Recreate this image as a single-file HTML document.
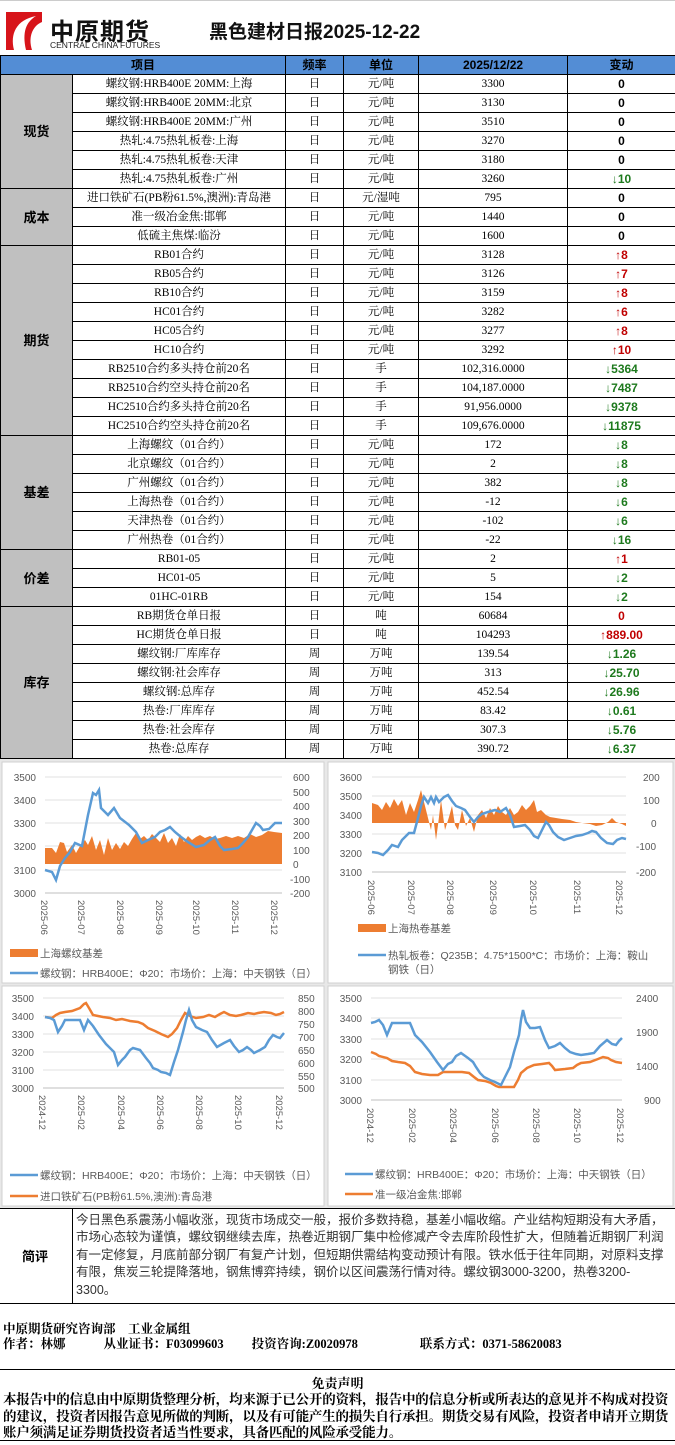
<!DOCTYPE html>
<html><head><meta charset="utf-8">
<style>
*{margin:0;padding:0;box-sizing:border-box}
body{width:675px;height:1445px;background:#fff;position:relative;overflow:hidden;font-family:"Liberation Serif","Noto Serif CJK SC",serif;color:#000}
.abs{position:absolute}
table{position:absolute;left:0;top:55px;border-collapse:collapse;table-layout:fixed;width:675px}
td,th{border:1px solid #000;height:19px;font-size:11.5px;text-align:center;white-space:nowrap;overflow:hidden;line-height:17px;padding:0}
th{background:#538dd5;font-family:"Liberation Sans","Noto Sans CJK SC",sans-serif;font-weight:bold;font-size:12px}
td.c{background:#c0c0c0;font-family:"Liberation Sans","Noto Sans CJK SC",sans-serif;font-weight:bold;font-size:13px}
td.v{font-family:"Liberation Sans","Noto Sans CJK SC",sans-serif;font-weight:bold;font-size:12px}
.r{color:#c00000}.g{color:#1e7a1e}
.sans{font-family:"Liberation Sans","Noto Sans CJK SC",sans-serif}
</style></head><body>
<div class="abs" style="left:0;top:0;width:675px;height:55px;background:#fff;border-top:1px solid #ccc"></div>
<svg class="abs" style="left:6px;top:12px" width="36" height="38"><rect width="36" height="38" fill="#d7141a"/><path d="M8 38 C4 22 10 8 30 4 C20 10 16 20 20 38 Z" fill="#fff"/><path d="M26 38 C22 26 26 14 36 10 L36 38Z" fill="#fff"/></svg>
<div class="abs sans" style="left:50px;top:12px;font-size:24px;font-weight:bold;letter-spacing:1px;color:#111">中原期货</div>
<div class="abs sans" style="left:50px;top:40px;font-size:8.5px;color:#222;letter-spacing:0px">CENTRAL CHINA FUTURES</div>
<div class="abs sans" style="left:209px;top:17px;font-size:19px;font-weight:bold;color:#111">黑色建材日报2025-12-22</div>
<table>
<colgroup><col style="width:72px"><col style="width:213px"><col style="width:58px"><col style="width:75px"><col style="width:149px"><col style="width:108px"></colgroup>
<tr><th colspan="2">项目</th><th>频率</th><th>单位</th><th>2025/12/22</th><th>变动</th></tr>
<tr><td class="c" rowspan="6">现货</td><td>螺纹钢:HRB400E 20MM:上海</td><td>日</td><td>元/吨</td><td>3300</td><td class="v">0</td></tr>
<tr><td>螺纹钢:HRB400E 20MM:北京</td><td>日</td><td>元/吨</td><td>3130</td><td class="v">0</td></tr>
<tr><td>螺纹钢:HRB400E 20MM:广州</td><td>日</td><td>元/吨</td><td>3510</td><td class="v">0</td></tr>
<tr><td>热轧:4.75热轧板卷:上海</td><td>日</td><td>元/吨</td><td>3270</td><td class="v">0</td></tr>
<tr><td>热轧:4.75热轧板卷:天津</td><td>日</td><td>元/吨</td><td>3180</td><td class="v">0</td></tr>
<tr><td>热轧:4.75热轧板卷:广州</td><td>日</td><td>元/吨</td><td>3260</td><td class="v g">↓10</td></tr>
<tr><td class="c" rowspan="3">成本</td><td>进口铁矿石(PB粉61.5%,澳洲):青岛港</td><td>日</td><td>元/湿吨</td><td>795</td><td class="v">0</td></tr>
<tr><td>准一级冶金焦:邯郸</td><td>日</td><td>元/吨</td><td>1440</td><td class="v">0</td></tr>
<tr><td>低硫主焦煤:临汾</td><td>日</td><td>元/吨</td><td>1600</td><td class="v">0</td></tr>
<tr><td class="c" rowspan="10">期货</td><td>RB01合约</td><td>日</td><td>元/吨</td><td>3128</td><td class="v r">↑8</td></tr>
<tr><td>RB05合约</td><td>日</td><td>元/吨</td><td>3126</td><td class="v r">↑7</td></tr>
<tr><td>RB10合约</td><td>日</td><td>元/吨</td><td>3159</td><td class="v r">↑8</td></tr>
<tr><td>HC01合约</td><td>日</td><td>元/吨</td><td>3282</td><td class="v r">↑6</td></tr>
<tr><td>HC05合约</td><td>日</td><td>元/吨</td><td>3277</td><td class="v r">↑8</td></tr>
<tr><td>HC10合约</td><td>日</td><td>元/吨</td><td>3292</td><td class="v r">↑10</td></tr>
<tr><td>RB2510合约多头持仓前20名</td><td>日</td><td>手</td><td>102,316.0000</td><td class="v g">↓5364</td></tr>
<tr><td>RB2510合约空头持仓前20名</td><td>日</td><td>手</td><td>104,187.0000</td><td class="v g">↓7487</td></tr>
<tr><td>HC2510合约多头持仓前20名</td><td>日</td><td>手</td><td>91,956.0000</td><td class="v g">↓9378</td></tr>
<tr><td>HC2510合约空头持仓前20名</td><td>日</td><td>手</td><td>109,676.0000</td><td class="v g">↓11875</td></tr>
<tr><td class="c" rowspan="6">基差</td><td>上海螺纹（01合约）</td><td>日</td><td>元/吨</td><td>172</td><td class="v g">↓8</td></tr>
<tr><td>北京螺纹（01合约）</td><td>日</td><td>元/吨</td><td>2</td><td class="v g">↓8</td></tr>
<tr><td>广州螺纹（01合约）</td><td>日</td><td>元/吨</td><td>382</td><td class="v g">↓8</td></tr>
<tr><td>上海热卷（01合约）</td><td>日</td><td>元/吨</td><td>-12</td><td class="v g">↓6</td></tr>
<tr><td>天津热卷（01合约）</td><td>日</td><td>元/吨</td><td>-102</td><td class="v g">↓6</td></tr>
<tr><td>广州热卷（01合约）</td><td>日</td><td>元/吨</td><td>-22</td><td class="v g">↓16</td></tr>
<tr><td class="c" rowspan="3">价差</td><td>RB01-05</td><td>日</td><td>元/吨</td><td>2</td><td class="v r">↑1</td></tr>
<tr><td>HC01-05</td><td>日</td><td>元/吨</td><td>5</td><td class="v g">↓2</td></tr>
<tr><td>01HC-01RB</td><td>日</td><td>元/吨</td><td>154</td><td class="v g">↓2</td></tr>
<tr><td class="c" rowspan="8">库存</td><td>RB期货仓单日报</td><td>日</td><td>吨</td><td>60684</td><td class="v r">0</td></tr>
<tr><td>HC期货仓单日报</td><td>日</td><td>吨</td><td>104293</td><td class="v r">↑889.00</td></tr>
<tr><td>螺纹钢:厂库库存</td><td>周</td><td>万吨</td><td>139.54</td><td class="v g">↓1.26</td></tr>
<tr><td>螺纹钢:社会库存</td><td>周</td><td>万吨</td><td>313</td><td class="v g">↓25.70</td></tr>
<tr><td>螺纹钢:总库存</td><td>周</td><td>万吨</td><td>452.54</td><td class="v g">↓26.96</td></tr>
<tr><td>热卷:厂库库存</td><td>周</td><td>万吨</td><td>83.42</td><td class="v g">↓0.61</td></tr>
<tr><td>热卷:社会库存</td><td>周</td><td>万吨</td><td>307.3</td><td class="v g">↓5.76</td></tr>
<tr><td>热卷:总库存</td><td>周</td><td>万吨</td><td>390.72</td><td class="v g">↓6.37</td></tr>
</table>

<svg class="abs" style="left:0;top:0" width="675" height="1445" font-family="Liberation Sans, Noto Sans CJK SC, sans-serif" font-size="10" fill="#595959">
<rect x="0" y="759" width="675" height="449" fill="#e8e8e8"/>
<rect x="2" y="762" width="322" height="221" fill="#fff" stroke="#d0d0d0"/>
<rect x="328" y="762" width="345" height="221" fill="#fff" stroke="#d0d0d0"/>
<rect x="2" y="986" width="322" height="220" fill="#fff" stroke="#d0d0d0"/>
<rect x="328" y="986" width="345" height="220" fill="#fff" stroke="#d0d0d0"/>
<g stroke="#e0e0e0" stroke-width="1">
<line x1="45" x2="282" y1="777" y2="777"/><line x1="45" x2="282" y1="800" y2="800"/><line x1="45" x2="282" y1="823" y2="823"/><line x1="45" x2="282" y1="846" y2="846"/><line x1="45" x2="282" y1="870" y2="870"/>
<line x1="372" x2="626" y1="777" y2="777"/><line x1="372" x2="626" y1="796" y2="796"/><line x1="372" x2="626" y1="815" y2="815"/><line x1="372" x2="626" y1="834" y2="834"/><line x1="372" x2="626" y1="853" y2="853"/>
<line x1="43" x2="284" y1="998" y2="998"/><line x1="43" x2="284" y1="1016" y2="1016"/><line x1="43" x2="284" y1="1034" y2="1034"/><line x1="43" x2="284" y1="1052" y2="1052"/><line x1="43" x2="284" y1="1070" y2="1070"/>
<line x1="371" x2="622" y1="998" y2="998"/><line x1="371" x2="622" y1="1018" y2="1018"/><line x1="371" x2="622" y1="1039" y2="1039"/><line x1="371" x2="622" y1="1059" y2="1059"/><line x1="371" x2="622" y1="1080" y2="1080"/>
</g>
<g stroke="#bfbfbf"><line x1="45" x2="282" y1="893" y2="893"/><line x1="372" x2="626" y1="872" y2="872"/><line x1="43" x2="284" y1="1088" y2="1088"/><line x1="371" x2="622" y1="1100" y2="1100"/></g>
<!-- chart1 -->
<g text-anchor="end"><text x="36" y="781">3500</text><text x="36" y="804">3400</text><text x="36" y="827">3300</text><text x="36" y="850">3200</text><text x="36" y="874">3100</text><text x="36" y="897">3000</text></g>
<g text-anchor="start"><text x="293" y="781">600</text><text x="293" y="796">500</text><text x="293" y="810">400</text><text x="293" y="825">300</text><text x="293" y="839">200</text><text x="293" y="854">100</text><text x="293" y="868">0</text><text x="290" y="883">-100</text><text x="290" y="897">-200</text></g>
<path fill="#ed7d31" d="M45 864 L45 848 L52 848 L56 853 L60 842 L64 843 L67 852 L72 845 L76 853 L80 846 L85 840 L88 845 L92 836 L96 850 L100 840 L104 855 L108 838 L112 850 L116 843 L120 849 L124 842 L128 846 L132 839 L136 833 L140 839 L144 836 L148 840 L152 834 L156 838 L160 842 L164 833 L168 843 L172 838 L176 846 L180 834 L184 842 L188 836 L192 840 L196 837 L200 835 L205 838 L210 836 L215 839 L220 838 L226 836 L232 838 L238 836 L244 838 L250 834 L256 837 L262 835 L268 831 L274 832 L282 833 L282 864Z"/>
<polyline fill="none" stroke="#5b9bd5" stroke-width="2.5" points="45,870 52,872 56,880 60,866 65,858 70,852 75,843 82,846 88,815 93,793 96,795 99,790 101,808 108,815 114,808 120,818 129,825 136,832 142,843 148,840 155,837 160,832 165,830 170,827 175,832 181,837 188,842 196,847 204,845 210,840 215,837 220,846 224,850 232,849 238,848 243,843 248,837 252,830 256,823 260,826 263,830 269,829 275,823 282,823"/>
<g font-size="9.5">
<text transform="translate(41,900) rotate(90)">2025-06</text><text transform="translate(78,900) rotate(90)">2025-07</text><text transform="translate(117,900) rotate(90)">2025-08</text><text transform="translate(156,900) rotate(90)">2025-09</text><text transform="translate(193,900) rotate(90)">2025-10</text><text transform="translate(232,900) rotate(90)">2025-11</text><text transform="translate(271,900) rotate(90)">2025-12</text>
</g>
<rect x="10" y="949" width="28" height="8" fill="#ed7d31"/><text x="40" y="957" font-size="10.5">上海螺纹基差</text>
<line x1="10" x2="38" y1="973" y2="973" stroke="#5b9bd5" stroke-width="2.5"/><text x="40" y="977" font-size="10.5">螺纹钢：HRB400E：Φ20：市场价：上海：中天钢铁（日）</text>
<!-- chart2 -->
<g text-anchor="end"><text x="362" y="781">3600</text><text x="362" y="800">3500</text><text x="362" y="819">3400</text><text x="362" y="838">3300</text><text x="362" y="857">3200</text><text x="362" y="876">3100</text></g>
<g><text x="643" y="781">200</text><text x="643" y="804">100</text><text x="651" y="827">0</text><text x="636" y="850">-100</text><text x="636" y="876">-200</text></g>
<path fill="#ed7d31" d="M372 823 L372 803 L378 805 L382 810 L386 802 L390 808 L394 799 L398 806 L402 800 L406 815 L410 803 L414 812 L418 800 L421 790 L424 802 L428 818 L431 830 L433 815 L436 840 L438 825 L441 800 L445 830 L449 817 L452 806 L455 825 L458 830 L462 810 L466 826 L470 818 L474 832 L478 815 L482 810 L486 818 L490 808 L494 815 L498 806 L502 812 L506 815 L510 808 L514 815 L518 812 L522 805 L526 810 L530 806 L534 800 L537 812 L541 810 L546 815 L550 817 L556 818 L562 819 L570 820 L576 822 L582 823 L590 824 L596 826 L602 825 L608 822 L612 818 L616 822 L622 824 L626 826 L626 823Z"/>
<polyline fill="none" stroke="#5b9bd5" stroke-width="2.5" points="372,852 378,853 383,855 388,850 392,845 398,847 402,840 409,833 414,833 418,818 421,806 424,797 428,803 431,797 434,803 436,797 439,802 444,797 448,795 452,801 456,806 461,808 465,810 470,817 474,822 478,817 482,814 488,812 495,810 500,812 506,808 510,815 514,827 520,826 525,825 530,830 534,836 538,838 542,830 546,822 549,825 553,832 558,837 564,840 570,838 576,836 582,835 588,833 592,831 596,832 601,838 607,843 613,844 617,840 622,838 626,839"/>
<g font-size="9.5">
<text transform="translate(368,880) rotate(90)">2025-06</text><text transform="translate(408,880) rotate(90)">2025-07</text><text transform="translate(447,880) rotate(90)">2025-08</text><text transform="translate(490,880) rotate(90)">2025-09</text><text transform="translate(530,880) rotate(90)">2025-10</text><text transform="translate(574,880) rotate(90)">2025-11</text><text transform="translate(616,880) rotate(90)">2025-12</text>
</g>
<rect x="358" y="924" width="28" height="8" fill="#ed7d31"/><text x="388" y="932" font-size="10.5">上海热卷基差</text>
<line x1="358" x2="386" y1="955" y2="955" stroke="#5b9bd5" stroke-width="2.5"/><text x="388" y="959" font-size="10.5">热轧板卷：Q235B：4.75*1500*C：市场价：上海：鞍山</text><text x="388" y="973" font-size="10.5">钢铁（日）</text>
<!-- chart3 -->
<g text-anchor="end"><text x="34" y="1002">3500</text><text x="34" y="1020">3400</text><text x="34" y="1038">3300</text><text x="34" y="1056">3200</text><text x="34" y="1074">3100</text><text x="34" y="1092">3000</text></g>
<g><text x="298" y="1002">850</text><text x="298" y="1015">800</text><text x="298" y="1028">750</text><text x="298" y="1041">700</text><text x="298" y="1054">650</text><text x="298" y="1067">600</text><text x="298" y="1080">550</text><text x="298" y="1092">500</text></g>
<polyline fill="none" stroke="#ed7d31" stroke-width="2.5" points="45,1017 52,1018 56,1015 60,1013 65,1012 72,1011 80,1008 84,1004 86,1003 89,1008 93,1015 98,1016 103,1017 110,1018 116,1020 122,1019 130,1021 138,1022 143,1024 148,1028 155,1031 161,1034 168,1037 172,1034 177,1028 181,1020 185,1013 190,1016 196,1018 203,1017 209,1015 215,1017 220,1014 224,1012 230,1015 236,1016 241,1015 248,1013 254,1014 258,1013 264,1012 271,1013 276,1015 280,1014 284,1012"/>
<polyline fill="none" stroke="#5b9bd5" stroke-width="2.5" points="45,1017 50,1018 54,1020 58,1032 62,1026 65,1020 72,1020 80,1020 84,1030 88,1020 93,1026 99,1035 106,1044 114,1052 118,1065 122,1060 125,1057 130,1050 133,1048 140,1050 146,1058 150,1063 153,1068 158,1070 161,1072 166,1073 170,1075 174,1062 178,1050 183,1032 186,1020 189,1010 192,1020 196,1027 202,1030 207,1032 212,1040 217,1047 224,1043 230,1040 234,1046 239,1052 243,1050 247,1047 251,1050 254,1053 260,1050 265,1047 269,1040 273,1035 277,1037 280,1038 284,1033"/>
<g font-size="9.5">
<text transform="translate(39,1095) rotate(90)">2024-12</text><text transform="translate(78,1095) rotate(90)">2025-02</text><text transform="translate(118,1095) rotate(90)">2025-04</text><text transform="translate(157,1095) rotate(90)">2025-06</text><text transform="translate(196,1095) rotate(90)">2025-08</text><text transform="translate(235,1095) rotate(90)">2025-10</text><text transform="translate(276,1095) rotate(90)">2025-12</text>
</g>
<line x1="10" x2="38" y1="1175" y2="1175" stroke="#5b9bd5" stroke-width="2.5"/><text x="40" y="1179" font-size="10.5">螺纹钢：HRB400E：Φ20：市场价：上海：中天钢铁（日）</text>
<line x1="10" x2="38" y1="1196" y2="1196" stroke="#ed7d31" stroke-width="2.5"/><text x="40" y="1200" font-size="10.5">进口铁矿石(PB粉61.5%,澳洲):青岛港</text>
<!-- chart4 -->
<g text-anchor="end"><text x="362" y="1002">3500</text><text x="362" y="1022">3400</text><text x="362" y="1043">3300</text><text x="362" y="1063">3200</text><text x="362" y="1084">3100</text><text x="362" y="1104">3000</text></g>
<g><text x="636" y="1002">2400</text><text x="636" y="1036">1900</text><text x="636" y="1070">1400</text><text x="644" y="1104">900</text></g>
<polyline fill="none" stroke="#ed7d31" stroke-width="2.5" points="371,1052 376,1054 379,1056 387,1058 392,1061 398,1062 405,1063 410,1066 415,1072 422,1074 430,1075 438,1075 443,1072 448,1072 456,1072 462,1072 469,1073 474,1077 478,1080 485,1081 491,1083 496,1086 499,1087 506,1087 514,1087 518,1080 521,1073 527,1068 534,1065 542,1064 549,1063 552,1066 555,1070 565,1069 573,1068 577,1065 581,1063 590,1062 598,1059 603,1057 608,1058 611,1060 616,1062 622,1063"/>
<polyline fill="none" stroke="#5b9bd5" stroke-width="2.5" points="371,1023 375,1022 379,1020 383,1025 387,1035 392,1023 398,1023 404,1023 410,1023 415,1035 422,1042 430,1052 437,1062 443,1070 448,1064 452,1062 456,1056 461,1053 468,1058 473,1062 476,1067 480,1073 484,1077 490,1080 495,1082 499,1084 501,1085 506,1075 510,1067 514,1052 519,1035 521,1020 523,1010 526,1022 530,1028 535,1028 540,1027 545,1040 549,1048 555,1046 560,1043 565,1048 570,1052 576,1054 581,1055 588,1054 594,1053 600,1046 607,1040 612,1044 616,1045 619,1041 622,1038"/>
<g font-size="9.5">
<text transform="translate(367,1108) rotate(90)">2024-12</text><text transform="translate(409,1108) rotate(90)">2025-02</text><text transform="translate(450,1108) rotate(90)">2025-04</text><text transform="translate(492,1108) rotate(90)">2025-06</text><text transform="translate(533,1108) rotate(90)">2025-08</text><text transform="translate(574,1108) rotate(90)">2025-10</text><text transform="translate(617,1108) rotate(90)">2025-12</text>
</g>
<line x1="345" x2="373" y1="1174" y2="1174" stroke="#5b9bd5" stroke-width="2.5"/><text x="375" y="1178" font-size="10.5">螺纹钢：HRB400E：Φ20：市场价：上海：中天钢铁（日）</text>
<line x1="345" x2="373" y1="1194" y2="1194" stroke="#ed7d31" stroke-width="2.5"/><text x="375" y="1198" font-size="10.5">准一级冶金焦:邯郸</text>
</svg>
<div class="abs" style="left:0;top:1208px;width:675px;height:96px;border-top:1px solid #000;border-bottom:1px solid #000"></div>
<div class="abs" style="left:72px;top:1208px;width:1px;height:96px;background:#000"></div>
<div class="abs sans" style="left:22px;top:1246px;font-size:13px;font-weight:bold">简评</div>
<div class="abs sans" style="left:76px;top:1212px;width:592px;font-size:12.5px;line-height:17.4px;color:#333">今日黑色系震荡小幅收涨，现货市场成交一般，报价多数持稳，基差小幅收缩。产业结构短期没有大矛盾，市场心态较为谨慎，螺纹钢继续去库，热卷近期钢厂集中检修减产令去库阶段性扩大，但随着近期钢厂利润有一定修复，月底前部分钢厂有复产计划，但短期供需结构变动预计有限。铁水低于往年同期，对原料支撑有限，焦炭三轮提降落地，钢焦博弈持续，钢价以区间震荡行情对待。螺纹钢3000-3200，热卷3200-3300。</div>
<div class="abs" style="left:0;top:1303px;width:675px;height:67px;border-bottom:1px solid #000"></div>
<div class="abs" style="left:3px;top:1322px;font-size:12.5px;font-weight:bold;line-height:15px">中原期货研究咨询部&nbsp;&nbsp;&nbsp;&nbsp;工业金属组<br>作者：林娜<span style="margin-left:38px">从业证书：F03099603</span><span style="margin-left:28px">投资咨询:Z0020978</span><span style="margin-left:62px">联系方式：0371-58620083</span></div>
<div class="abs" style="left:0;top:1376px;width:675px;text-align:center;font-size:13px;font-weight:bold;line-height:16px">免责声明</div>
<div class="abs" style="left:3px;top:1392px;width:672px;font-size:13.5px;font-weight:bold;line-height:16.5px;letter-spacing:-0.2px">本报告中的信息由中原期货整理分析，均来源于已公开的资料，报告中的信息分析或所表达的意见并不构成对投资的建议，投资者因报告意见所做的判断，以及有可能产生的损失自行承担。期货交易有风险，投资者申请开立期货账户须满足证券期货投资者适当性要求，具备匹配的风险承受能力。</div>
<div class="abs" style="left:0;top:1440px;width:675px;height:1px;background:#000"></div>
</body></html>
